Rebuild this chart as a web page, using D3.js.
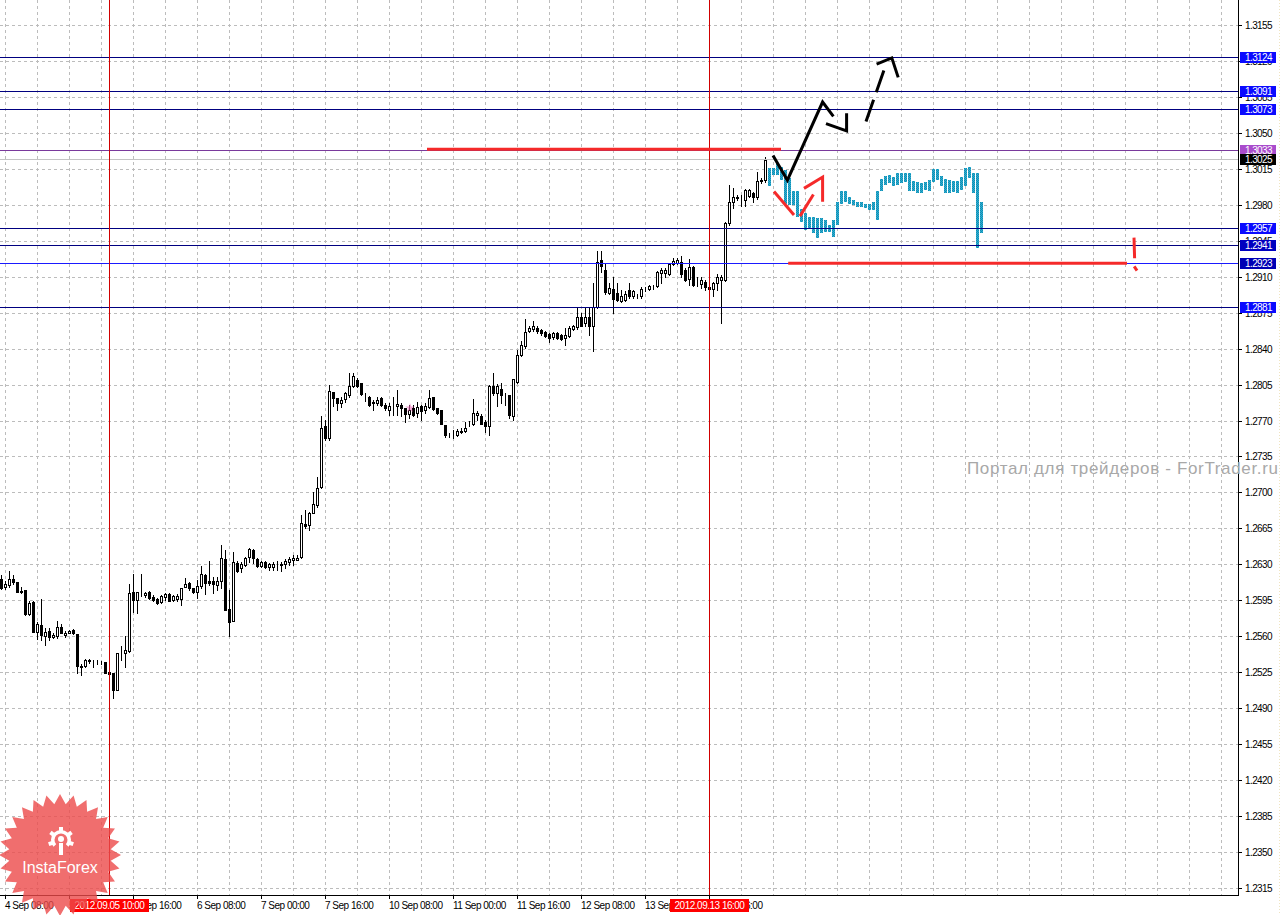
<!DOCTYPE html>
<html>
<head>
<meta charset="utf-8">
<script src="https://cdn.jsdelivr.net/npm/d3@7"></script>
<style>
  html, body { margin: 0; padding: 0; background: #fff; }
  svg { display: block; }
  text { font-family: "Liberation Sans", Arial, sans-serif; }
</style>
</head>
<body>
<svg id="chart" width="1284" height="915"></svg>
<script>
// EURUSD H1, 4 Sep 07:00 .. 13 Sep ~23:00 (bar index 0..191)
const opens = [
  1.2616,1.2608,1.2610,1.2616,1.2613,1.2604,1.2605,1.2582,1.2593,1.2564,
  1.2571,1.2560,1.2565,1.2559,1.2560,1.2569,1.2561,1.2563,1.2566,1.2562,
  1.2531,1.2531,1.2536,1.2535,1.2534,1.2534,1.2535,1.2525,1.2524,1.2508,
  1.2546,1.2544,1.2546,1.2603,1.2595,1.2601,1.2600,1.2603,1.2598,1.2596,
  1.2593,1.2598,1.2601,1.2595,1.2596,1.2596,1.2608,1.2612,1.2607,1.2603,
  1.2609,1.2620,1.2614,1.2614,1.2610,1.2614,1.2635,1.2587,1.2575,1.2631,
  1.2626,1.2629,1.2637,1.2644,1.2635,1.2628,1.2632,1.2627,1.2627,1.2628,
  1.2629,1.2630,1.2632,1.2634,1.2634,1.2637,1.2669,1.2668,1.2680,1.2688,
  1.2705,1.2765,1.2753,1.2798,1.2792,1.2787,1.2791,1.2795,1.2804,1.2809,
  1.2807,1.2796,1.2793,1.2788,1.2787,1.2792,1.2785,1.2780,1.2783,1.2784,
  1.2785,1.2782,1.2776,1.2782,1.2777,1.2784,1.2780,1.2783,1.2793,1.2782,
  1.2780,1.2766,1.2756,1.2756,1.2756,1.2759,1.2760,1.2767,1.2767,1.2775,
  1.2774,1.2769,1.2765,1.2804,1.2797,1.2801,1.2795,1.2795,1.2774,1.2808,
  1.2834,1.2843,1.2857,1.2859,1.2860,1.2858,1.2856,1.2854,1.2851,1.2855,
  1.2853,1.2850,1.2852,1.2859,1.2861,1.2871,1.2865,1.2871,1.2862,1.2881,
  1.2926,1.2917,1.2894,1.2898,1.2894,1.2886,1.2887,1.2897,1.2891,1.2891,
  1.2891,1.2898,1.2898,1.2900,1.2901,1.2914,1.2914,1.2913,1.2922,1.2923,
  1.2924,1.2917,1.2908,1.2919,1.2903,1.2903,1.2905,1.2900,1.2898,1.2904,
  1.2907,1.2907,1.2962,1.2983,1.2987,1.2986,1.2985,1.2989,1.2991,1.2988,
  1.3003,1.3004
];
const highs = [
  1.2620,1.2614,1.2624,1.2620,1.2613,1.2608,1.2605,1.2594,1.2594,1.2574,
  1.2596,1.2568,1.2568,1.2563,1.2575,1.2572,1.2565,1.2566,1.2567,1.2562,
  1.2533,1.2538,1.2538,1.2537,1.2537,1.2536,1.2535,1.2527,1.2524,1.2544,
  1.2551,1.2560,1.2611,1.2621,1.2603,1.2621,1.2603,1.2604,1.2600,1.2597,
  1.2600,1.2602,1.2602,1.2600,1.2601,1.2607,1.2617,1.2613,1.2607,1.2615,
  1.2628,1.2621,1.2633,1.2618,1.2618,1.2649,1.2644,1.2605,1.2642,1.2633,
  1.2632,1.2637,1.2646,1.2645,1.2636,1.2633,1.2633,1.2631,1.2632,1.2633,
  1.2632,1.2635,1.2637,1.2639,1.2639,1.2678,1.2683,1.2681,1.2700,1.2715,
  1.2774,1.2771,1.2805,1.2798,1.2792,1.2793,1.2798,1.2816,1.2816,1.2811,
  1.2807,1.2797,1.2794,1.2790,1.2793,1.2793,1.2787,1.2787,1.2793,1.2800,
  1.2787,1.2782,1.2785,1.2785,1.2788,1.2785,1.2787,1.2800,1.2793,1.2782,
  1.2780,1.2766,1.2758,1.2761,1.2762,1.2763,1.2769,1.2770,1.2791,1.2779,
  1.2776,1.2771,1.2805,1.2816,1.2806,1.2807,1.2797,1.2795,1.2810,1.2839,
  1.2847,1.2869,1.2862,1.2867,1.2862,1.2859,1.2857,1.2855,1.2856,1.2856,
  1.2854,1.2860,1.2862,1.2863,1.2881,1.2875,1.2881,1.2881,1.2904,1.2935,
  1.2935,1.2922,1.2904,1.2910,1.2904,1.2897,1.2896,1.2904,1.2897,1.2893,
  1.2900,1.2900,1.2902,1.2902,1.2916,1.2918,1.2918,1.2923,1.2928,1.2928,
  1.2930,1.2918,1.2927,1.2920,1.2910,1.2910,1.2907,1.2904,1.2905,1.2913,
  1.2912,1.2963,1.2999,1.2996,1.2990,1.2990,1.2995,1.2995,1.2992,1.3012,
  1.3006,1.3027
];
const lows = [
  1.2606,1.2606,1.2608,1.2611,1.2603,1.2602,1.2581,1.2581,1.2564,1.2557,
  1.2556,1.2552,1.2556,1.2558,1.2558,1.2563,1.2559,1.2563,1.2562,1.2524,
  1.2522,1.2530,1.2534,1.2530,1.2533,1.2533,1.2524,1.2517,1.2500,1.2508,
  1.2537,1.2530,1.2545,1.2584,1.2583,1.2599,1.2598,1.2596,1.2594,1.2591,
  1.2592,1.2595,1.2594,1.2594,1.2594,1.2590,1.2608,1.2605,1.2602,1.2597,
  1.2607,1.2601,1.2610,1.2602,1.2605,1.2607,1.2586,1.2560,1.2575,1.2623,
  1.2623,1.2628,1.2632,1.2631,1.2627,1.2627,1.2626,1.2625,1.2625,1.2625,
  1.2624,1.2626,1.2629,1.2629,1.2634,1.2636,1.2665,1.2663,1.2680,1.2686,
  1.2704,1.2751,1.2751,1.2784,1.2780,1.2783,1.2788,1.2793,1.2803,1.2803,
  1.2795,1.2789,1.2784,1.2780,1.2785,1.2784,1.2780,1.2775,1.2775,1.2775,
  1.2774,1.2769,1.2772,1.2774,1.2773,1.2771,1.2777,1.2782,1.2780,1.2776,
  1.2767,1.2754,1.2754,1.2753,1.2755,1.2758,1.2759,1.2765,1.2766,1.2771,
  1.2767,1.2759,1.2756,1.2795,1.2784,1.2787,1.2785,1.2772,1.2771,1.2807,
  1.2833,1.2841,1.2856,1.2857,1.2855,1.2853,1.2851,1.2846,1.2849,1.2849,
  1.2848,1.2844,1.2851,1.2858,1.2859,1.2862,1.2862,1.2853,1.2838,1.2880,
  1.2915,1.2893,1.2893,1.2875,1.2886,1.2885,1.2886,1.2889,1.2889,1.2889,
  1.2889,1.2896,1.2897,1.2898,1.2900,1.2904,1.2910,1.2912,1.2921,1.2922,
  1.2910,1.2906,1.2902,1.2901,1.2901,1.2899,1.2897,1.2883,1.2891,1.2897,
  1.2865,1.2906,1.2960,1.2977,1.2985,1.2979,1.2979,1.2988,1.2983,1.2986,
  1.3001,1.3002
];
const closes = [
  1.2607,1.2611,1.2616,1.2613,1.2603,1.2603,1.2582,1.2592,1.2564,1.2572,
  1.2561,1.2564,1.2559,1.2561,1.2569,1.2563,1.2563,1.2565,1.2563,1.2531,
  1.2530,1.2537,1.2537,1.2535,1.2534,1.2534,1.2524,1.2523,1.2508,1.2544,
  1.2546,1.2547,1.2602,1.2595,1.2603,1.2601,1.2602,1.2597,1.2595,1.2592,
  1.2599,1.2601,1.2594,1.2599,1.2599,1.2607,1.2611,1.2607,1.2603,1.2609,
  1.2621,1.2612,1.2612,1.2611,1.2614,1.2636,1.2586,1.2574,1.2632,1.2624,
  1.2630,1.2636,1.2645,1.2636,1.2628,1.2632,1.2627,1.2630,1.2630,1.2628,
  1.2630,1.2633,1.2635,1.2636,1.2636,1.2670,1.2667,1.2680,1.2689,1.2704,
  1.2763,1.2753,1.2799,1.2792,1.2787,1.2790,1.2797,1.2804,1.2813,1.2804,
  1.2796,1.2796,1.2785,1.2787,1.2790,1.2785,1.2782,1.2784,1.2783,1.2786,
  1.2782,1.2776,1.2780,1.2775,1.2783,1.2779,1.2784,1.2792,1.2781,1.2777,
  1.2767,1.2756,1.2756,1.2756,1.2760,1.2760,1.2763,1.2767,1.2777,1.2777,
  1.2767,1.2765,1.2804,1.2797,1.2804,1.2795,1.2795,1.2775,1.2810,1.2834,
  1.2844,1.2856,1.2860,1.2862,1.2857,1.2855,1.2852,1.2850,1.2855,1.2850,
  1.2849,1.2853,1.2860,1.2862,1.2871,1.2862,1.2871,1.2862,1.2881,1.2924,
  1.2920,1.2895,1.2899,1.2888,1.2887,1.2891,1.2893,1.2891,1.2896,1.2891,
  1.2898,1.2898,1.2901,1.2900,1.2915,1.2917,1.2917,1.2922,1.2925,1.2926,
  1.2913,1.2907,1.2919,1.2902,1.2903,1.2907,1.2900,1.2898,1.2904,1.2910,
  1.2910,1.2962,1.2983,1.2988,1.2988,1.2986,1.2994,1.2994,1.2988,1.3003,
  1.3004,1.3024
];

// overlaid forecast bars (cyan), start right after the last real bar
const forecastStart = 192;
const forecastHigh = [
  1.3016,1.3016,1.3020,1.3017,1.3014,1.3006,1.2993,1.2993,1.2976,1.2972,
  1.2968,1.2968,1.2967,1.2967,1.2965,1.2960,1.2965,1.2983,1.2993,1.2993,
  1.2988,1.2985,1.2983,1.2983,1.2981,1.2981,1.2983,1.2993,1.3005,1.3008,
  1.3009,1.3007,1.3011,1.3011,1.3011,1.3011,1.3003,1.3002,1.3001,1.3002,
  1.3004,1.3015,1.3015,1.3008,1.3005,1.3004,1.3003,1.3003,1.3007,1.3016,
  1.3017,1.3011,1.3011,1.2983
];
const forecastLow = [
  1.2998,1.3009,1.3009,1.3004,1.2981,1.2980,1.2980,1.2968,1.2963,1.2955,
  1.2957,1.2953,1.2948,1.2953,1.2954,1.2954,1.2949,1.2960,1.2981,1.2983,
  1.2981,1.2980,1.2978,1.2978,1.2977,1.2975,1.2975,1.2965,1.2993,1.2999,
  1.3001,1.2998,1.2999,1.3001,1.3002,1.2993,1.2993,1.2991,1.2991,1.2994,
  1.2993,1.3002,1.3004,1.2998,1.2991,1.2991,1.2992,1.2991,1.2994,1.2998,
  1.3006,1.2991,1.2938,1.2953
];

// axis ticks
const priceTicks = [1.3155,1.3120,1.3085,1.3050,1.3015,1.2980,1.2945,1.2910,1.2875,1.2840,
  1.2805,1.2770,1.2735,1.2700,1.2665,1.2630,1.2595,1.2560,1.2525,1.2490,1.2455,1.2420,
  1.2385,1.2350,1.2315];
const timeTickBars = [1, 17, 33, 49, 65, 81, 97, 113, 129, 145, 161, 177];
const timeTickLabels = ["4 Sep 08:00", "5 Sep 00:00", "5 Sep 16:00", "6 Sep 08:00", "7 Sep 00:00",
  "7 Sep 16:00", "10 Sep 08:00", "11 Sep 00:00", "11 Sep 16:00", "12 Sep 08:00",
  "13 Sep 00:00", "13 Sep 16:00"];

// horizontal levels
const levelPrices = [1.3124, 1.3091, 1.3073, 1.2957, 1.2941, 1.2923, 1.2881];
const levelLabels = ["1.3124", "1.3091", "1.3073", "1.2957", "1.2941", "1.2923", "1.2881"];
const levelBoxColors = ["#0a0aff", "#0a0aff", "#0a0aff", "#0a0aff", "#0000c0", "#0000b4", "#0a0aff"];
const levelLineColors = ["#000080", "#000080", "#000080", "#000080", "#000080", "#1a1aff", "#000080"];
const highPrice = 1.3033, bidPrice = 1.3025;

// vertical markers
const markerBars = [27, 177];
const markerLabels = ["2012.09.05 10:00", "2012.09.13 16:00"];

// hand drawn objects: [bar index, price]
const redLevels = [[[106.5, 1.3034], [195, 1.3034]], [[196.8, 1.2923], [281.5, 1.2923]]];
const blackPath = [[193, 1.3028], [196.6, 1.3004], [205.4, 1.3080], [208.1, 1.3066]];
const blackHead = [[206.25, 1.3059], [211.4, 1.3052], [211.4, 1.3069]];
const dashedPath = [[216.25, 1.3061], [220.75, 1.3111]];
const dashedHead = [[218.9, 1.3117], [222.7, 1.3123], [224.3, 1.3104]];
const redArrows = [
  [[193.25, 1.2993], [198.25, 1.2970]],
  [[199.75, 1.2969], [203.1, 1.2990]],
  [[200.75, 1.2996], [205.4, 1.3007], [205.4, 1.2983]],
  [[283.25, 1.2948], [283.4, 1.2928]],
  [[283.3, 1.2920], [284.0, 1.2916]]
];

const W = 1284, H = 915, plotRight = 1238, plotBottom = 895;
const x = d3.scaleLinear().domain([0, 1]).range([1, 5]);
const y = d3.scaleLinear().domain([1.2315, 1.3155]).range([888, 25]);
const crisp = v => Math.round(v) + 0.5;

const svg = d3.select("#chart");
const defs = svg.append("defs");
const cyanPat = defs.append("pattern").attr("id", "cyanDots")
  .attr("width", 2).attr("height", 2).attr("patternUnits", "userSpaceOnUse");
cyanPat.append("rect").attr("width", 2).attr("height", 2).attr("fill", "#2fb0d2");
cyanPat.append("rect").attr("width", 1).attr("height", 1).attr("fill", "#138db3");
cyanPat.append("rect").attr("x", 1).attr("y", 1).attr("width", 1).attr("height", 1).attr("fill", "#138db3");

svg.append("rect").attr("width", W).attr("height", H).attr("fill", "#fff");

// grid
const grid = svg.append("g").attr("stroke", "#bcbcbc").attr("stroke-dasharray", "3,3");
grid.selectAll("line.h").data(priceTicks).join("line")
  .attr("x1", 0).attr("x2", plotRight)
  .attr("y1", d => crisp(y(d))).attr("y2", d => crisp(y(d)));
const gridBars = d3.range(1, 320, 8).filter(b => x(b) < plotRight - 4);
grid.selectAll("line.v").data(gridBars).join("line")
  .attr("x1", d => crisp(x(d))).attr("x2", d => crisp(x(d)))
  .attr("y1", 0).attr("y2", plotBottom);

// candles
const bars = opens.map((o, i) => ({ i, o, h: highs[i], l: lows[i], c: closes[i] }));
const cg = svg.append("g");
cg.selectAll("line").data(bars).join("line")
  .attr("x1", d => x(d.i) + 0.5).attr("x2", d => x(d.i) + 0.5)
  .attr("y1", d => Math.round(y(d.h))).attr("y2", d => Math.round(y(d.l)) + 1)
  .attr("stroke", "#000");
cg.selectAll("rect").data(bars).join("rect")
  .attr("x", d => x(d.i) - 0.5)
  .attr("width", 2)
  .attr("y", d => Math.round(y(Math.max(d.o, d.c))) + 0.5)
  .attr("height", d => Math.round(y(Math.min(d.o, d.c))) - Math.round(y(Math.max(d.o, d.c))))
  .attr("fill", d => d.c >= d.o ? "#fff" : "#000")
  .attr("stroke", "#000");

// forecast bars
svg.append("g").selectAll("rect").data(forecastHigh).join("rect")
  .attr("x", (d, k) => x(forecastStart + k) - 1)
  .attr("width", 3)
  .attr("y", d => Math.round(y(d)))
  .attr("height", (d, k) => Math.max(1, Math.round(y(forecastLow[k])) - Math.round(y(d))))
  .attr("fill", "url(#cyanDots)");

// level lines
const lv = svg.append("g");
lv.selectAll("line").data(levelPrices).join("line")
  .attr("x1", 0).attr("x2", plotRight)
  .attr("y1", d => crisp(y(d))).attr("y2", d => crisp(y(d)))
  .attr("stroke", (d, k) => levelLineColors[k]);
lv.append("line").attr("x1", 0).attr("x2", plotRight)
  .attr("y1", crisp(y(bidPrice))).attr("y2", crisp(y(bidPrice))).attr("stroke", "#c4c4c4");
lv.append("line").attr("x1", 0).attr("x2", plotRight)
  .attr("y1", crisp(y(highPrice))).attr("y2", crisp(y(highPrice))).attr("stroke", "#7a3a9c");

// vertical markers
svg.append("g").selectAll("line").data(markerBars).join("line")
  .attr("x1", d => x(d) + 0.5).attr("x2", d => x(d) + 0.5)
  .attr("y1", 0).attr("y2", plotBottom)
  .attr("stroke", "#d00000");

// drawings
const line = d3.line().x(d => x(d[0])).y(d => y(d[1]));
const dr = svg.append("g").attr("fill", "none").attr("stroke-width", 3);
dr.selectAll("path.red").data(redLevels).join("path")
  .attr("d", line).attr("stroke", "#f52a2a").attr("stroke-width", 3);
dr.append("path").attr("d", line(blackPath)).attr("stroke", "#000");
dr.append("path").attr("d", line(blackHead)).attr("stroke", "#000");
dr.append("path").attr("d", line(dashedPath)).attr("stroke", "#000").attr("stroke-dasharray", "23,8");
dr.append("path").attr("d", line(dashedHead)).attr("stroke", "#000");
dr.selectAll("path.ra").data(redArrows).join("path")
  .attr("d", line).attr("stroke", "#f52a2a");

// axes
const ax = svg.append("g");
ax.append("rect").attr("x", plotRight + 1).attr("y", 0).attr("width", W - plotRight).attr("height", H).attr("fill", "#fff");
ax.append("rect").attr("x", 0).attr("y", plotBottom + 1).attr("width", W).attr("height", H - plotBottom).attr("fill", "#fff");
ax.append("line").attr("x1", plotRight + 0.5).attr("x2", plotRight + 0.5).attr("y1", 0).attr("y2", plotBottom + 1).attr("stroke", "#000");
ax.append("line").attr("x1", 0).attr("x2", plotRight + 1).attr("y1", plotBottom + 0.5).attr("y2", plotBottom + 0.5).attr("stroke", "#000");
ax.append("line").attr("x1", 1279.5).attr("x2", 1279.5).attr("y1", 0).attr("y2", H)
  .attr("stroke", "#efe4c0").attr("stroke-dasharray", "1,2");

ax.selectAll("line.pt").data(priceTicks).join("line")
  .attr("x1", plotRight).attr("x2", plotRight + 4)
  .attr("y1", d => crisp(y(d))).attr("y2", d => crisp(y(d))).attr("stroke", "#000");
ax.selectAll("text.pt").data(priceTicks).join("text")
  .attr("x", 1245).attr("y", d => Math.round(y(d)) + 4)
  .attr("font-size", 10).attr("letter-spacing", -0.6).attr("fill", "#000")
  .text(d => d.toFixed(4));

ax.selectAll("line.tt").data(timeTickBars).join("line")
  .attr("x1", d => x(d) + 0.5).attr("x2", d => x(d) + 0.5)
  .attr("y1", plotBottom).attr("y2", plotBottom + 4).attr("stroke", "#000");
ax.selectAll("text.tt").data(timeTickBars).join("text")
  .attr("x", d => x(d)).attr("y", 909)
  .attr("font-size", 10).attr("letter-spacing", -0.5).attr("fill", "#000")
  .text((d, k) => timeTickLabels[k]);

// price boxes on the right scale
const boxes = levelPrices.map((p, k) => ({ p, label: levelLabels[k], color: levelBoxColors[k] }))
  .concat([{ p: highPrice, label: "1.3033", color: "#a94ccc" }, { p: bidPrice, label: "1.3025", color: "#000" }]);
const bx = ax.selectAll("g.box").data(boxes).join("g");
bx.append("rect").attr("x", 1240).attr("width", 36)
  .attr("y", d => Math.round(y(d.p)) - 5).attr("height", 11).attr("fill", d => d.color);
bx.append("text").attr("x", 1245).attr("y", d => Math.round(y(d.p)) + 4)
  .attr("font-size", 10).attr("letter-spacing", -0.6).attr("fill", "#fff").text(d => d.label);

// time boxes for the vertical markers
const tb = ax.selectAll("g.tb").data(markerBars).join("g");
tb.append("rect").attr("x", d => x(d) - 39).attr("width", 79)
  .attr("y", 899).attr("height", 13).attr("fill", "#ff0000");
tb.append("text").attr("x", d => x(d) + 0.5).attr("y", 909).attr("text-anchor", "middle")
  .attr("font-size", 10).attr("letter-spacing", -0.5).attr("fill", "#fff")
  .text((d, k) => markerLabels[k]);

// watermarks
svg.append("text").attr("x", 967).attr("y", 474)
  .attr("font-size", 17).attr("fill", "#a8a8a8").attr("textLength", 311)
  .text("Портал для трейдеров - ForTrader.ru");

const star = d3.range(56).map(k => {
  const r = k % 2 ? 51 : 61, a = k * Math.PI / 28;
  return [60 + r * Math.sin(a), 855 - r * Math.cos(a)];
});
const logo = svg.append("g");
logo.append("path").attr("d", d3.line()(star) + "Z").attr("fill", "#ec4a4a").attr("opacity", 0.8);
logo.append("path")
  .attr("d", d3.arc()({ innerRadius: 6.5, outerRadius: 10, startAngle: -2.3, endAngle: 2.3 }))
  .attr("transform", "translate(61,840)").attr("fill", "#fff");
logo.selectAll("rect.tooth").data([-1.9, -0.95, 0, 0.95, 1.9]).join("rect")
  .attr("x", -2).attr("y", -13).attr("width", 4).attr("height", 4).attr("fill", "#fff")
  .attr("transform", d => `translate(61,840) rotate(${d * 180 / Math.PI})`);
logo.append("circle").attr("cx", 61).attr("cy", 839).attr("r", 3).attr("fill", "#fff");
logo.append("rect").attr("x", 59).attr("y", 843).attr("width", 4).attr("height", 12).attr("fill", "#fff");
logo.append("text").attr("x", 60).attr("y", 873).attr("text-anchor", "middle")
  .attr("font-size", 16).attr("fill", "#fff").text("InstaForex");

// small pink mark over the 11 Sep candles
const mini = d3.range(10).map(k => {
  const r = k % 2 ? 2 : 5, a = k * Math.PI / 5;
  return [410 + r * Math.sin(a), 408 - r * Math.cos(a)];
});
svg.append("path").attr("d", d3.line()(mini) + "Z").attr("fill", "#e870b8").attr("opacity", 0.6);
</script>
</body>
</html>
